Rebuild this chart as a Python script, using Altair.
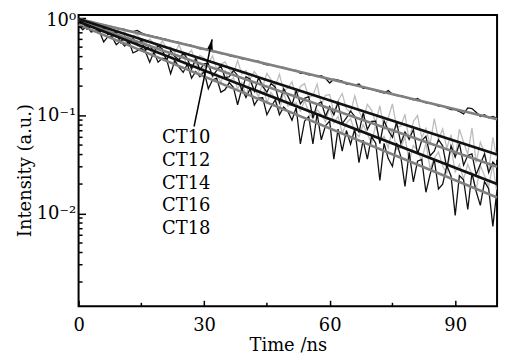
import altair as alt
import pandas as pd

# ---------------- data ----------------
time_ns = list(range(0, 101))

ct10 = [0.97, 0.95, 0.93, 0.90, 0.89, 0.86, 0.85, 0.82, 0.81, 0.78, 0.77,
        0.76, 0.73, 0.72, 0.74, 0.70, 0.67, 0.66, 0.64, 0.63, 0.61,
        0.60, 0.58, 0.57, 0.56, 0.54, 0.53, 0.52, 0.50, 0.48, 0.48,
        0.47, 0.45, 0.45, 0.43, 0.43, 0.41, 0.40, 0.40, 0.38, 0.38,
        0.37, 0.36, 0.36, 0.34, 0.33, 0.33, 0.32, 0.31, 0.31, 0.30,
        0.29, 0.29, 0.27, 0.27, 0.26, 0.26, 0.25, 0.255, 0.24, 0.215,
        0.235, 0.23, 0.225, 0.21, 0.21, 0.205, 0.21, 0.19, 0.19, 0.185,
        0.18, 0.175, 0.17, 0.18, 0.165, 0.16, 0.16, 0.155, 0.15, 0.145,
        0.15, 0.14, 0.135, 0.135, 0.13, 0.125, 0.125, 0.12, 0.115, 0.115,
        0.11, 0.104, 0.12, 0.118, 0.108, 0.098, 0.102, 0.095, 0.098, 0.094]

ct12 = [0.970, 0.958, 0.892, 0.932, 0.846, 0.792, 0.827, 0.783, 0.727, 0.798, 0.692,
        0.718, 0.613, 0.655, 0.670, 0.584, 0.549, 0.606, 0.546, 0.489, 0.578,
        0.489, 0.501, 0.438, 0.529, 0.417, 0.419, 0.465, 0.349, 0.411, 0.385,
        0.339, 0.408, 0.299, 0.334, 0.354, 0.297, 0.268, 0.365, 0.266, 0.288,
        0.237, 0.282, 0.246, 0.197, 0.270, 0.233, 0.201, 0.265, 0.178, 0.191,
        0.221, 0.154, 0.198, 0.212, 0.153, 0.160, 0.210, 0.129, 0.161, 0.164,
        0.107, 0.142, 0.168, 0.117, 0.108, 0.159, 0.111, 0.0904, 0.130, 0.114,
        0.0848, 0.126, 0.0734, 0.095, 0.132, 0.076, 0.078, 0.103, 0.0556, 0.087,
        0.1005, 0.0596, 0.0739, 0.0510, 0.0929, 0.0571, 0.0729, 0.0465, 0.0637, 0.0369,
        0.0726, 0.0537, 0.0402, 0.0749, 0.0332, 0.0534, 0.0418, 0.0270, 0.0600, 0.0352]

ct14 = [0.892, 0.921, 0.761, 0.818, 0.816, 0.696, 0.793, 0.670, 0.704, 0.708, 0.555,
        0.643, 0.550, 0.609, 0.545, 0.591, 0.462, 0.522, 0.450, 0.516, 0.479,
        0.361, 0.460, 0.401, 0.371, 0.437, 0.381, 0.297, 0.382, 0.294, 0.340,
        0.340, 0.254, 0.288, 0.322, 0.244, 0.249, 0.289, 0.257, 0.179, 0.249,
        0.235, 0.177, 0.244, 0.200, 0.173, 0.213, 0.195, 0.135, 0.188, 0.158,
        0.129, 0.180, 0.132, 0.150, 0.156, 0.0944, 0.131, 0.138, 0.0982, 0.124,
        0.102, 0.136, 0.0827, 0.0945, 0.111, 0.0980, 0.0669, 0.1064, 0.0722, 0.0871,
        0.0876, 0.0518, 0.0887, 0.0708, 0.0600, 0.0856, 0.0521, 0.0679, 0.0575, 0.0721,
        0.0405, 0.0556, 0.0613, 0.0389, 0.0434, 0.0568, 0.0491, 0.0289, 0.0492, 0.0377,
        0.0519, 0.0312, 0.0391, 0.0407, 0.0249, 0.0318, 0.0407, 0.0262, 0.0336, 0.0300]

ct16 = [0.904, 0.910, 0.803, 0.834, 0.829, 0.731, 0.719, 0.764, 0.634, 0.663, 0.651,
        0.545, 0.587, 0.610, 0.519, 0.488, 0.555, 0.468, 0.420, 0.475, 0.441,
        0.379, 0.438, 0.337, 0.368, 0.419, 0.318, 0.315, 0.349, 0.255, 0.310,
        0.326, 0.246, 0.267, 0.218, 0.288, 0.220, 0.244, 0.189, 0.218, 0.160,
        0.224, 0.187, 0.156, 0.216, 0.135, 0.172, 0.147, 0.113, 0.173, 0.125,
        0.130, 0.135, 0.111, 0.142, 0.108, 0.0926, 0.115, 0.102, 0.0865, 0.121,
        0.0841, 0.0981, 0.0664, 0.0836, 0.0933, 0.0680, 0.0607, 0.0812, 0.0652, 0.0519,
        0.0802, 0.0559, 0.0617, 0.0468, 0.0744, 0.0451, 0.0470, 0.0607, 0.0338, 0.0494,
        0.0443, 0.0348, 0.0527, 0.0288, 0.0367, 0.0426, 0.0306, 0.0257, 0.0479, 0.0267,
        0.0317, 0.0224, 0.0318, 0.0251, 0.0171, 0.0309, 0.0243, 0.0190, 0.0314, 0.0159]

ct18 = [0.836, 0.752, 0.826, 0.715, 0.732, 0.724, 0.565, 0.640, 0.635, 0.530, 0.577,
        0.513, 0.573, 0.436, 0.458, 0.486, 0.447, 0.351, 0.445, 0.351, 0.385,
        0.377, 0.268, 0.364, 0.313, 0.276, 0.336, 0.241, 0.282, 0.249, 0.282,
        0.188, 0.231, 0.241, 0.173, 0.184, 0.217, 0.195, 0.129, 0.188, 0.153,
        0.188, 0.128, 0.151, 0.152, 0.102, 0.123, 0.145, 0.102, 0.122, 0.111,
        0.0898, 0.121, 0.0513, 0.0877, 0.0980, 0.0513, 0.105, 0.0566, 0.0786, 0.0878,
        0.0359, 0.0729, 0.0434, 0.0704, 0.0511, 0.0730, 0.0331, 0.0561, 0.0360, 0.0611,
        0.0522, 0.0218, 0.0520, 0.0364, 0.0303, 0.0526, 0.0381, 0.0189, 0.0422, 0.0210,
        0.0343, 0.0357, 0.0165, 0.0251, 0.0355, 0.0178, 0.0199, 0.0309, 0.0242, 0.00957,
        0.0244, 0.0221, 0.0110, 0.0260, 0.0169, 0.0121, 0.0212, 0.0179, 0.0074, 0.0177]

# exponential fits (straight lines on the log axis): value at 0 ns and at 100 ns
fit_time = [0, 100]
fit_ct10 = [0.97, 0.092]
fit_ct12 = [0.97, 0.040]
fit_ct14 = [0.92, 0.030]
fit_ct16 = [0.91, 0.020]
fit_ct18 = [0.85, 0.0146]

series_names = ["CT10", "CT12", "CT14", "CT16", "CT18"]
x_ticks = [0, 30, 60, 90]
x_minor = [15, 45, 75]
y_ticks = [1, 0.1, 0.01]
y_tick_labels = ["10⁰", "10⁻¹", "10⁻²"]
y_minor = [0.002, 0.003, 0.004, 0.005, 0.006, 0.007, 0.008, 0.009,
           0.02, 0.03, 0.04, 0.05, 0.06, 0.07, 0.08, 0.09,
           0.2, 0.3, 0.4, 0.5, 0.6, 0.7, 0.8, 0.9]

arrow_x = [27.6, 31.9]
arrow_y = [0.0774, 0.6]
arrow_head_x = [31.66]
arrow_head_y = [0.535]

# ---------------- tables ----------------
measured = [ct10, ct12, ct14, ct16, ct18]
fits = [fit_ct10, fit_ct12, fit_ct14, fit_ct16, fit_ct18]

rows = []
for name, vals in zip(series_names, measured):
    for t, v in zip(time_ns, vals):
        rows.append({"t": t, "I": v, "s": name})
data_df = pd.DataFrame(rows)

frows = []
for name, vals in zip(series_names, fits):
    for t, v in zip(fit_time, vals):
        frows.append({"t": t, "I": v, "s": name})
fit_df = pd.DataFrame(frows)

FONT = "DejaVu Serif"
xscale = alt.Scale(domain=[0, 100], nice=False, zero=False)
yscale = alt.Scale(type="log", domain=[0.00113, 1.064], nice=False)

lab_expr = " : ".join(
    f"datum.value == {v} ? '{l}'" for v, l in zip(y_ticks, y_tick_labels)
) + " : ''"

x_axis = alt.Axis(values=x_ticks, tickSize=6, offset=-6, labelPadding=10,
                  title="Time /ns", titleY=51, titleBaseline="alphabetic",
                  labelFlush=False)
y_axis = alt.Axis(values=y_ticks, tickSize=7, offset=-7, labelPadding=3,
                  labelExpr=lab_expr, title="Intensity (a.u.)",
                  labelOffset={"condition": {"test": "datum.value >= 1", "value": 3}, "value": 0},
                  titleX=-60, titleY=156, titleBaseline="middle",
                  titleAlign="center", titleAngle=270, labelFlush=False)

X = alt.X("t:Q", scale=xscale, axis=x_axis)
Y = alt.Y("I:Q", scale=yscale, axis=y_axis)

gray_names = ["CT12", "CT16"]
black_names = ["CT10", "CT14", "CT18"]

base_data = alt.Chart(data_df)
gray_data = base_data.transform_filter(
    alt.FieldOneOfPredicate(field="s", oneOf=gray_names)
).mark_line(color="#bdbdbd", strokeWidth=1.3, clip=True).encode(x=X, y=Y, detail="s:N")
black_data = base_data.transform_filter(
    alt.FieldOneOfPredicate(field="s", oneOf=black_names)
).mark_line(color="#111111", strokeWidth=1.3, clip=True).encode(x=X, y=Y, detail="s:N")

base_fit = alt.Chart(fit_df)
gray_fit = base_fit.transform_filter(
    alt.FieldOneOfPredicate(field="s", oneOf=black_names)
).mark_line(color="#808080", strokeWidth=2.6).encode(x=X, y=Y, detail="s:N")
black_fit = base_fit.transform_filter(
    alt.FieldOneOfPredicate(field="s", oneOf=gray_names)
).mark_line(color="#111111", strokeWidth=2.6).encode(x=X, y=Y, detail="s:N")

xminor_layer = alt.Chart(pd.DataFrame({"t": x_minor})).mark_rule(
    color="black", strokeWidth=1.5
).encode(x=X, y=alt.value(293), y2=alt.value(289.5))

yminor_layer = alt.Chart(pd.DataFrame({"I": y_minor})).mark_rule(
    color="black", strokeWidth=1.5
).encode(y=Y, x=alt.value(0), x2=alt.value(4))

arrow_line = alt.Chart(pd.DataFrame({"t": arrow_x, "I": arrow_y})).mark_line(
    color="black", strokeWidth=1.5
).encode(x=X, y=Y)

arrow_head = alt.Chart(pd.DataFrame({"t": arrow_head_x, "I": arrow_head_y})).mark_point(
    shape="M-0.55,1 L0,-1 L0.55,1 Z", filled=True, color="black", size=110,
    angle=11.6, opacity=1
).encode(x=X, y=Y)

labels = alt.Chart(pd.DataFrame({"a": [0]})).mark_text(
    text=series_names, font=FONT, fontSize=18, align="left",
    baseline="alphabetic", lineHeight=22.8, color="black"
).encode(x=alt.value(84), y=alt.value(129))

chart = alt.layer(
    gray_data, black_data, gray_fit, black_fit,
    xminor_layer, yminor_layer, arrow_line, arrow_head, labels
).properties(
    width=421, height=293,
    padding={"left": 71, "top": 6, "right": 10, "bottom": 55},
    autosize=alt.AutoSizeParams(type="none"),
    background="white",
).configure_view(
    stroke="black", strokeWidth=2
).configure_axis(
    labelFont=FONT, labelFontSize=18, labelColor="black",
    titleFont=FONT, titleFontSize=18, titleFontWeight="normal", titleColor="black",
    tickColor="black", tickWidth=1.5, domain=False, grid=False
)

chart.save("out.html", embed_options={"renderer": "svg", "actions": False})
